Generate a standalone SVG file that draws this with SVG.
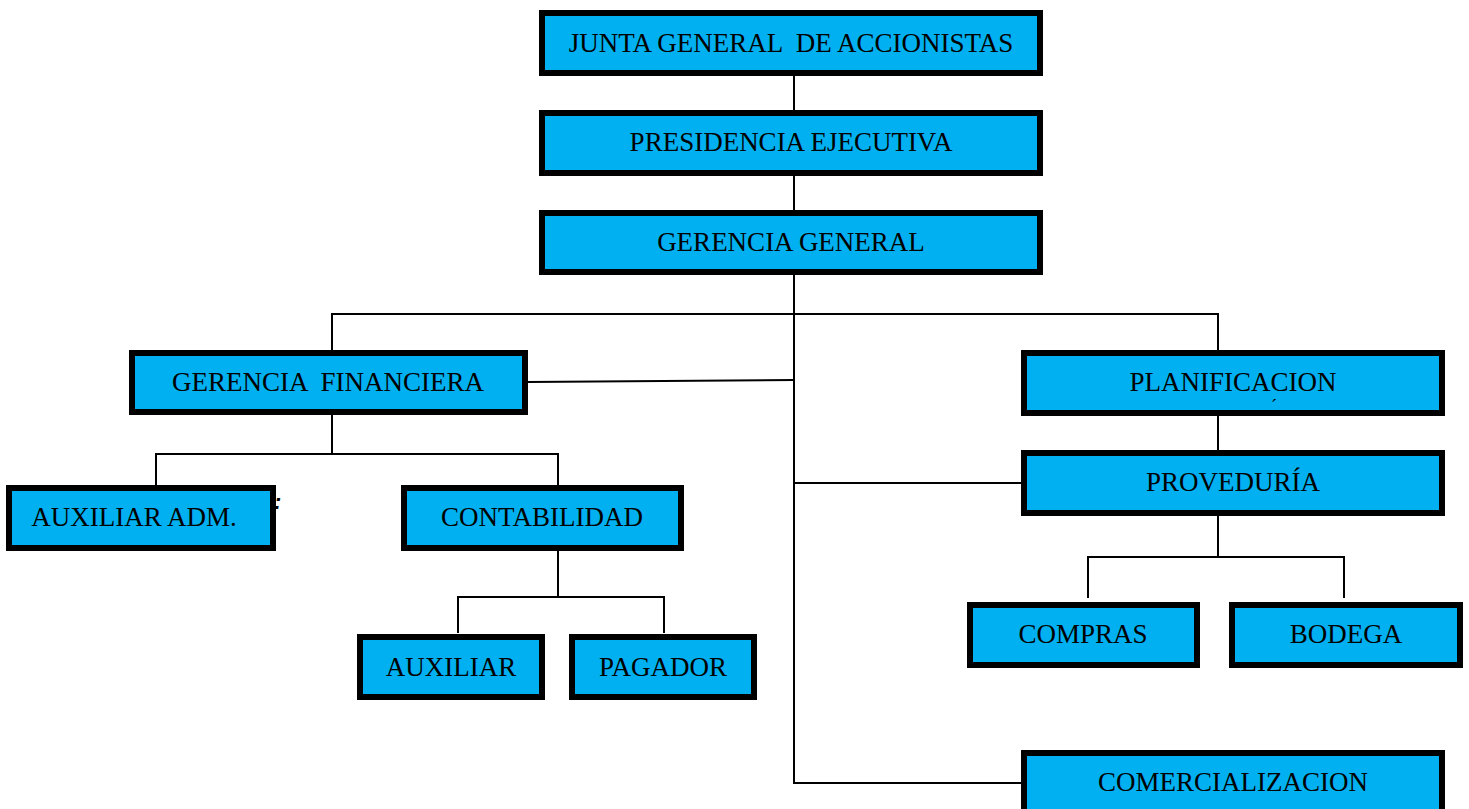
<svg xmlns="http://www.w3.org/2000/svg" width="1469" height="809" viewBox="0 0 1469 809">
<style>
.box{fill:#00B0F0;stroke:#000;stroke-width:6}
.lbl{font-family:"Liberation Serif","Times New Roman",serif;font-size:27px;fill:#000;text-anchor:middle;white-space:pre}
.ln{fill:none;stroke:#000;stroke-width:2}
</style>
<rect width="1469" height="809" fill="#fff"/>
<g id="connectors">
<path class="ln" d="M794 76V110M794 176V210M794 275V783H1021"/>
<path class="ln" d="M332 350V314H1218V350"/>
<path class="ln" d="M528 382L794 380"/>
<path class="ln" d="M1218 415V450"/>
<path class="ln" d="M794 483H1021"/>
<path class="ln" d="M332 415V454M156 485V454H558V485"/>
<path class="ln" d="M558 551V597M458 633V597H664V633"/>
<path class="ln" d="M1218 516V557M1088 598V557H1344V598"/>
</g>
<text x="274" y="509" fill="#000" font-family="'Liberation Sans',Arial,sans-serif" font-size="22" font-weight="bold" font-style="italic">:</text>
<g id="junta"><rect class="box" x="542" y="13" width="498" height="60"/><text class="lbl" x="791" y="52" xml:space="preserve">JUNTA GENERAL  DE ACCIONISTAS</text></g>
<g id="presidencia"><rect class="box" x="542" y="113" width="498" height="60"/><text class="lbl" x="791" y="151">PRESIDENCIA EJECUTIVA</text></g>
<g id="gerencia-general"><rect class="box" x="542" y="213" width="498" height="59"/><text class="lbl" x="791" y="251">GERENCIA GENERAL</text></g>
<g id="gerencia-financiera"><rect class="box" x="132" y="353" width="393" height="59"/><text class="lbl" x="328" y="391" xml:space="preserve">GERENCIA  FINANCIERA</text></g>
<g id="planificacion"><rect class="box" x="1024" y="353" width="418" height="60"/><text class="lbl" x="1233" y="391">PLANIFICACION</text><text x="1271" y="412" fill="#000" font-family="'Liberation Serif',serif" font-size="18">´</text></g>
<g id="proveduria"><rect class="box" x="1024" y="453" width="418" height="60"/><text class="lbl" x="1233" y="491">PROVEDURÍA</text></g>
<g id="auxiliar-adm"><rect class="box" x="9" y="488" width="264" height="60"/><text class="lbl" x="134" y="526">AUXILIAR ADM.</text></g>
<g id="contabilidad"><rect class="box" x="404" y="488" width="277" height="60"/><text class="lbl" x="542" y="526">CONTABILIDAD</text></g>
<g id="auxiliar"><rect class="box" x="360" y="637" width="182" height="60"/><text class="lbl" x="451" y="676">AUXILIAR</text></g>
<g id="pagador"><rect class="box" x="572" y="637" width="182" height="60"/><text class="lbl" x="663" y="676">PAGADOR</text></g>
<g id="compras"><rect class="box" x="970" y="605" width="227" height="60"/><text class="lbl" x="1083" y="643">COMPRAS</text></g>
<g id="bodega"><rect class="box" x="1232" y="605" width="228" height="60"/><text class="lbl" x="1346" y="643">BODEGA</text></g>
<g id="comercializacion"><rect class="box" x="1024" y="753" width="418" height="70"/><text class="lbl" x="1233" y="791">COMERCIALIZACION</text></g>
</svg>
